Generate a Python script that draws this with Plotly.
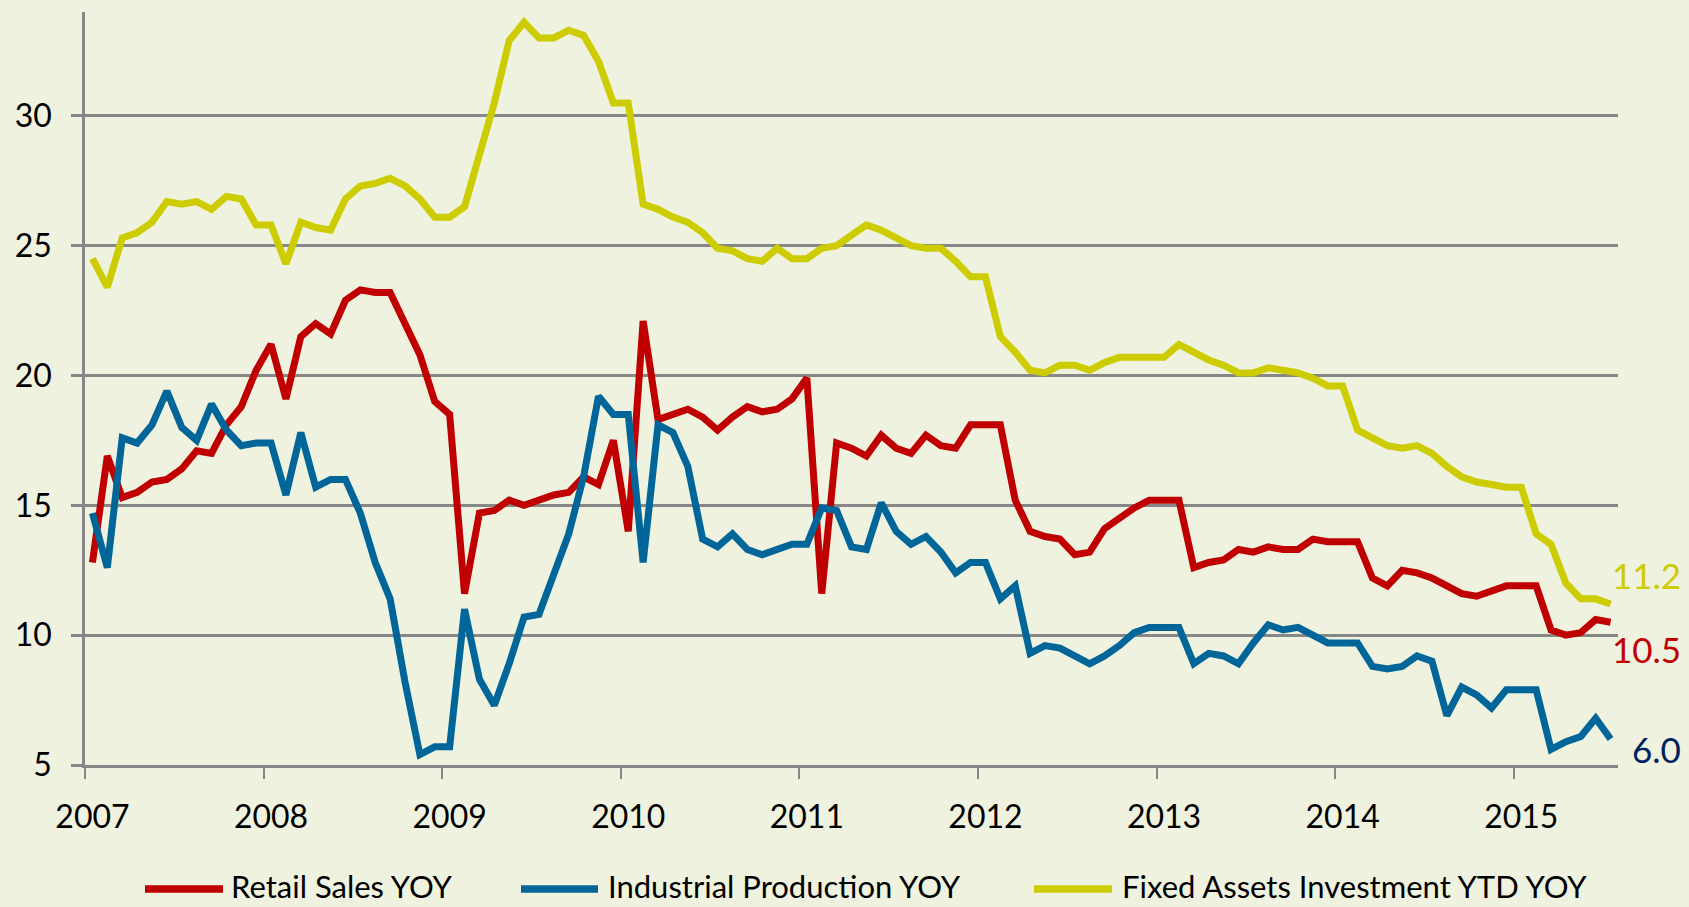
import plotly.graph_objects as go
import pandas as pd

# ---- data -------------------------------------------------------------
months = [p.strftime("%b %Y") for p in pd.period_range("2007-01", "2015-07", freq="M")]
years = [str(y) for y in range(2007, 2016)]

retail_sales = [12.8, 16.9, 15.3, 15.5, 15.9, 16.0, 16.4, 17.1, 17.0, 18.1, 18.8, 20.2,
                21.2, 19.1, 21.5, 22.0, 21.6, 22.9, 23.3, 23.2, 23.2, 22.0, 20.8, 19.0,
                18.5, 11.6, 14.7, 14.8, 15.2, 15.0, 15.2, 15.4, 15.5, 16.1, 15.8, 17.5,
                14.0, 22.1, 18.3, 18.5, 18.7, 18.4, 17.9, 18.4, 18.8, 18.6, 18.7, 19.1,
                19.9, 11.6, 17.4, 17.2, 16.9, 17.7, 17.2, 17.0, 17.7, 17.3, 17.2, 18.1,
                18.1, 18.1, 15.2, 14.0, 13.8, 13.7, 13.1, 13.2, 14.1, 14.5, 14.9, 15.2,
                15.2, 15.2, 12.6, 12.8, 12.9, 13.3, 13.2, 13.4, 13.3, 13.3, 13.7, 13.6,
                13.6, 13.6, 12.2, 11.9, 12.5, 12.4, 12.2, 11.9, 11.6, 11.5, 11.7, 11.9,
                11.9, 11.9, 10.2, 10.0, 10.1, 10.6, 10.5]

industrial_production = [14.7, 12.6, 17.6, 17.4, 18.1, 19.4, 18.0, 17.5, 18.9, 17.9, 17.3, 17.4,
                         17.4, 15.4, 17.8, 15.7, 16.0, 16.0, 14.7, 12.8, 11.4, 8.2, 5.4, 5.7,
                         5.7, 11.0, 8.3, 7.3, 8.9, 10.7, 10.8, 12.3, 13.9, 16.1, 19.2, 18.5,
                         18.5, 12.8, 18.1, 17.8, 16.5, 13.7, 13.4, 13.9, 13.3, 13.1, 13.3, 13.5,
                         13.5, 14.9, 14.8, 13.4, 13.3, 15.1, 14.0, 13.5, 13.8, 13.2, 12.4, 12.8,
                         12.8, 11.4, 11.9, 9.3, 9.6, 9.5, 9.2, 8.9, 9.2, 9.6, 10.1, 10.3,
                         10.3, 10.3, 8.9, 9.3, 9.2, 8.9, 9.7, 10.4, 10.2, 10.3, 10.0, 9.7,
                         9.7, 9.7, 8.8, 8.7, 8.8, 9.2, 9.0, 6.9, 8.0, 7.7, 7.2, 7.9,
                         7.9, 7.9, 5.6, 5.9, 6.1, 6.8, 6.0]

fixed_assets = [24.5, 23.4, 25.3, 25.5, 25.9, 26.7, 26.6, 26.7, 26.4, 26.9, 26.8, 25.8,
                25.8, 24.3, 25.9, 25.7, 25.6, 26.8, 27.3, 27.4, 27.6, 27.3, 26.8, 26.1,
                26.1, 26.5, 28.5, 30.5, 32.9, 33.6, 33.0, 33.0, 33.3, 33.1, 32.1, 30.5,
                30.5, 26.6, 26.4, 26.1, 25.9, 25.5, 24.9, 24.8, 24.5, 24.4, 24.9, 24.5,
                24.5, 24.9, 25.0, 25.4, 25.8, 25.6, 25.3, 25.0, 24.9, 24.9, 24.4, 23.8,
                23.8, 21.5, 20.9, 20.2, 20.1, 20.4, 20.4, 20.2, 20.5, 20.7, 20.7, 20.7,
                20.7, 21.2, 20.9, 20.6, 20.4, 20.1, 20.1, 20.3, 20.2, 20.1, 19.9, 19.6,
                19.6, 17.9, 17.6, 17.3, 17.2, 17.3, 17.0, 16.5, 16.1, 15.9, 15.8, 15.7,
                15.7, 13.9, 13.5, 12.0, 11.4, 11.4, 11.2]

series_names = ["Retail Sales YOY", "Industrial Production YOY", "Fixed Assets Investment YTD YOY"]
y_ticks = [5, 10, 15, 20, 25, 30]

# ---- styles ------------------------------------------------------------
BG = "#EFF2DE"
GRID = "#878787"
LINE_COLORS = ["#C00000", "#006699", "#CCCC00"]
LABEL_COLORS = ["#C00000", "#002060", "#CCCC00"]
FONT = "Lato, 'Open Sans', sans-serif"

W, H = 1689, 907
ML, MR, MT, MB = 85, 71, 12, 142
PW, PH = W - ML - MR, H - MT - MB


def px_x(px):
    return (px - ML) / PW


def px_y(py):
    return (H - MB - py) / PH


xpos = list(range(len(months)))
year_starts = [months.index("Jan " + y) for y in years]
boundaries = [i - 0.5 for i in year_starts]

fig = go.Figure()
all_series = [retail_sales, industrial_production, fixed_assets]
for name, vals, col in zip(series_names, all_series, LINE_COLORS):
    fig.add_trace(go.Scatter(
        x=xpos, y=vals, name=name, mode="lines",
        line=dict(color=col, width=7),
        text=months, hovertemplate="%{text}: %{y}<extra>" + name + "</extra>",
    ))

# end-of-series value labels
end_offsets = [(72, -27), (72, -10), (72, 29)]
annotations = []
for vals, col, (dx, dy) in zip(all_series, LABEL_COLORS, end_offsets):
    annotations.append(dict(
        x=xpos[-1], y=vals[-1], xref="x", yref="y",
        text=f"{vals[-1]:.1f}", showarrow=False,
        xanchor="right", yanchor="middle", xshift=dx, yshift=dy,
        font=dict(family=FONT, size=35, color=col),
    ))

# custom legend (long line samples like the original)
legend_items = [(145, 223, 229), (521, 598, 606), (1034, 1112, 1120)]
shapes = []
LEG_LINE_Y = 889
LEG_TEXT_Y = 886
for (x0, x1, tx), name, col in zip(legend_items, series_names, LINE_COLORS):
    shapes.append(dict(type="line", xref="paper", yref="paper",
                       x0=px_x(x0), x1=px_x(x1), y0=px_y(LEG_LINE_Y), y1=px_y(LEG_LINE_Y),
                       line=dict(color=col, width=7.5)))
    annotations.append(dict(
        x=px_x(tx), y=px_y(LEG_TEXT_Y), xref="paper", yref="paper",
        text=name, showarrow=False, xanchor="left", yanchor="middle",
        font=dict(family=FONT, size=31, color="#000000"),
    ))

fig.update_layout(
    width=W, height=H,
    margin=dict(l=ML, r=MR, t=MT, b=MB, autoexpand=False),
    paper_bgcolor=BG, plot_bgcolor=BG,
    showlegend=False,
    font=dict(family=FONT, color="#000000"),
    annotations=annotations, shapes=shapes,
    xaxis=dict(
        range=[-0.5, len(months) - 0.5],
        tickmode="array", tickvals=year_starts, ticktext=years,
        ticks="", showgrid=False, zeroline=False,
        showline=True, linecolor=GRID, linewidth=2.6,
        tickfont=dict(family=FONT, size=32, color="#000000"),
        ticklabelstandoff=22,
        minor=dict(tickvals=boundaries, ticks="outside", ticklen=11,
                   tickwidth=2.4, tickcolor=GRID, showgrid=False),
    ),
    yaxis=dict(
        range=[5, 34],
        tickmode="array", tickvals=y_ticks,
        ticks="outside", ticklen=11, tickwidth=2.6, tickcolor=GRID,
        showgrid=True, gridcolor=GRID, gridwidth=2.6,
        zeroline=False, showline=True, linecolor=GRID, linewidth=2.6,
        tickfont=dict(family=FONT, size=32, color="#000000"),
        ticklabelstandoff=13,
    ),
)

fig.write_html(
    "out.html",
    config={"displayModeBar": False},
    post_script=("document.body.style.margin='0';"
                 "document.body.style.overflow='hidden';"
                 "document.body.style.background='" + BG + "';"),
)
